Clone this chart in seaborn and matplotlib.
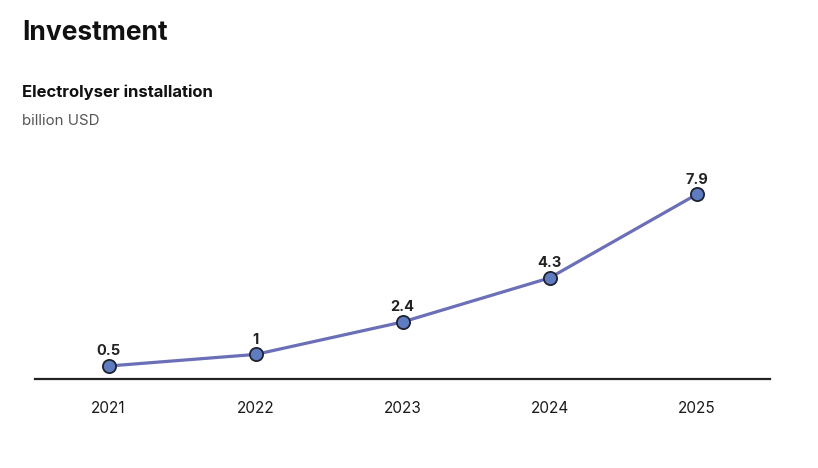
import pandas as pd
import matplotlib.pyplot as plt
import seaborn as sns

# ---- Data ----
years = ["2021", "2022", "2023", "2024", "2025"]
investment = [0.5, 1.0, 2.4, 4.3, 7.9]
value_labels = ["0.5", "1", "2.4", "4.3", "7.9"]

df = pd.DataFrame({"year": years, "value": investment})
df["pos"] = range(len(df))

# ---- Style ----
sns.set_theme(style="white")
plt.rcParams['font.family'] = ['Inter', 'DejaVu Sans']

fig = plt.figure(figsize=(8.18, 4.68), dpi=100)
ax = fig.add_axes([35 / 818, 89 / 468, 735 / 818, 210 / 468])

sns.lineplot(
    data=df, x="pos", y="value",
    color="#6a6fb8", linewidth=2.3,
    marker="o", markersize=9.5,
    markerfacecolor="#5f7cc0", markeredgecolor="#1f2330", markeredgewidth=1.3,
    ax=ax
)

for x, y, lab in zip(df["pos"], df["value"], value_labels):
    ax.annotate(lab, (x, y), xytext=(0, 5.5), textcoords="offset points",
                ha="center", va="bottom", fontsize=10.5, fontweight="bold",
                color="#222222")

ax.set_xlim(-0.5, 4.5)
ax.set_ylim(-0.06, 9)
ax.set_xticks(df["pos"])
ax.set_xticklabels(years)
ax.tick_params(axis="x", length=0, labelsize=11, colors="#1a1a1a", pad=16)
ax.set_yticks([])
ax.set_xlabel("")
ax.set_ylabel("")
sns.despine(ax=ax, left=True, top=True, right=True)
ax.spines["bottom"].set_color("#222222")
ax.spines["bottom"].set_linewidth(1.6)

# ---- Titles ----
fig.text(22 / 818, 1 - 33 / 468, "Investment", fontsize=19, fontweight="bold",
         va="center", ha="left", color="#111111")
fig.text(22 / 818, 1 - 92 / 468, "Electrolyser installation", fontsize=12,
         fontweight="bold", va="center", ha="left", color="#111111")
fig.text(22 / 818, 1 - 121 / 468, "billion USD", fontsize=10.8,
         va="center", ha="left", color="#555555")

plt.savefig("out.png", dpi=100)
